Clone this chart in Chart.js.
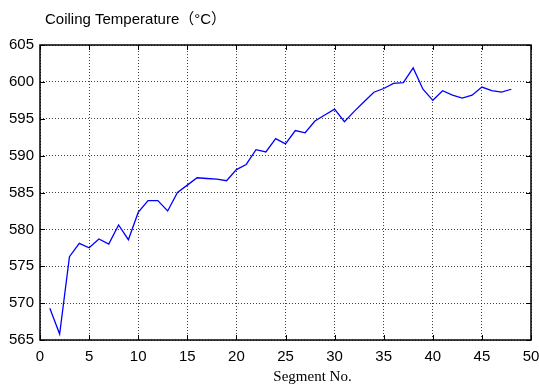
<!DOCTYPE html>
<html>
<head>
<meta charset="utf-8">
<script src="https://cdn.jsdelivr.net/npm/chart.js@4.4.1/dist/chart.umd.min.js"></script>
<style>
html, body { margin: 0; padding: 0; background: #fff; }
canvas { display: block; }
</style>
</head>
<body>
<canvas id="chartCoiling" width="539" height="385"></canvas>
<script>
const titleText = "Coiling Temperature（°C）";
const xTitle = "Segment No.";

const segments = [1, 2, 3, 4, 5, 6, 7, 8, 9, 10, 11, 12, 13, 14, 15, 16, 17, 18, 19, 20, 21, 22, 23, 24,
    25, 26, 27, 28, 29, 30, 31, 32, 33, 34, 35, 36, 37, 38, 39, 40, 41, 42, 43, 44, 45, 46, 47, 48];
const temperatures = [569.3, 565.8, 576.3, 578.1, 577.5, 578.7, 578.0, 580.6, 578.6, 582.3, 583.9, 583.9,
    582.5, 585.0, 586.0, 587.0, 586.9, 586.8, 586.6, 588.1, 588.8, 590.8, 590.5, 592.3,
    591.6, 593.4, 593.1, 594.7, 595.5, 596.3, 594.6, 596.0, 597.3, 598.6, 599.1, 599.8,
    599.9, 601.9, 599.0, 597.5, 598.8, 598.2, 597.8, 598.2, 599.3, 598.8, 598.6, 599.0];

const xTicks = [0, 5, 10, 15, 20, 25, 30, 35, 40, 45, 50];
const yTicks = [565, 570, 575, 580, 585, 590, 595, 600, 605];

Chart.defaults.font.family = "'Liberation Sans', Arial, 'Noto Sans CJK SC', sans-serif";
Chart.defaults.color = "#000";

const framePlugin = {
    id: "frame",
    afterDraw(chart) {
        const {ctx, chartArea: {left, right, top, bottom}, scales: {x, y}} = chart;
        ctx.save();
        ctx.strokeStyle = "#000";
        ctx.lineWidth = 1;
        ctx.beginPath();
        xTicks.forEach(v => {
            let px = Math.round(x.getPixelForValue(v)) + 0.5;
            ctx.moveTo(px, bottom);
            ctx.lineTo(px, bottom - 5);
            ctx.moveTo(px, top);
            ctx.lineTo(px, top + 5);
        });
        yTicks.forEach(v => {
            let py = Math.round(y.getPixelForValue(v)) + 0.5;
            ctx.moveTo(left, py);
            ctx.lineTo(left + 5, py);
            ctx.moveTo(right, py);
            ctx.lineTo(right - 5, py);
        });
        ctx.stroke();
        ctx.lineWidth = 1.5;
        ctx.strokeRect(left, top, right - left, bottom - top);

        ctx.fillStyle = "#000";
        ctx.textBaseline = "middle";
        ctx.textAlign = "left";
        ctx.font = "15px 'Liberation Sans', Arial, 'Noto Sans CJK SC', sans-serif";
        ctx.fillText(titleText, left + 5, 19.5);

        ctx.font = "15px 'Liberation Serif', 'Times New Roman', serif";
        ctx.textAlign = "center";
        ctx.textBaseline = "alphabetic";
        ctx.fillText(xTitle, (left + right) / 2 + 27, chart.height - 4);
        ctx.restore();
    }
};

let chartElement = document.querySelector("#chartCoiling").getContext("2d");
new Chart(chartElement, {
    type: "line",
    data: {
        datasets: [{
            data: segments.map((s, i) => ({x: s, y: temperatures[i]})),
            borderColor: "#0000ff",
            borderWidth: 1.3,
            pointRadius: 0,
            tension: 0,
            fill: false
        }]
    },
    options: {
        responsive: false,
        animation: false,
        layout: {padding: {top: 45, right: 8, bottom: 0, left: 0}},
        plugins: {
            legend: {display: false},
            tooltip: {enabled: false},
            title: {display: false}
        },
        scales: {
            x: {
                type: "linear",
                min: 0,
                max: 50,
                afterBuildTicks: scale => { scale.ticks = xTicks.map(v => ({value: v})); },
                afterFit: scale => {
                    scale.height = 45;
                    scale.paddingLeft = 0;
                    scale.paddingRight = 0;
                },
                ticks: {font: {size: 15}, padding: 8, maxRotation: 0},
                grid: {color: "rgba(0,0,0,0.75)", lineWidth: 1, drawTicks: false},
                border: {display: false, dash: [1, 2]}
            },
            y: {
                min: 565,
                max: 605,
                afterBuildTicks: scale => { scale.ticks = yTicks.map(v => ({value: v})); },
                afterFit: scale => {
                    scale.width = 40;
                    scale.paddingTop = 0;
                    scale.paddingBottom = 0;
                },
                ticks: {font: {size: 15}, padding: 6},
                grid: {color: "rgba(0,0,0,0.75)", lineWidth: 1, drawTicks: false},
                border: {display: false, dash: [1, 2]}
            }
        }
    },
    plugins: [framePlugin]
});
</script>
</body>
</html>
